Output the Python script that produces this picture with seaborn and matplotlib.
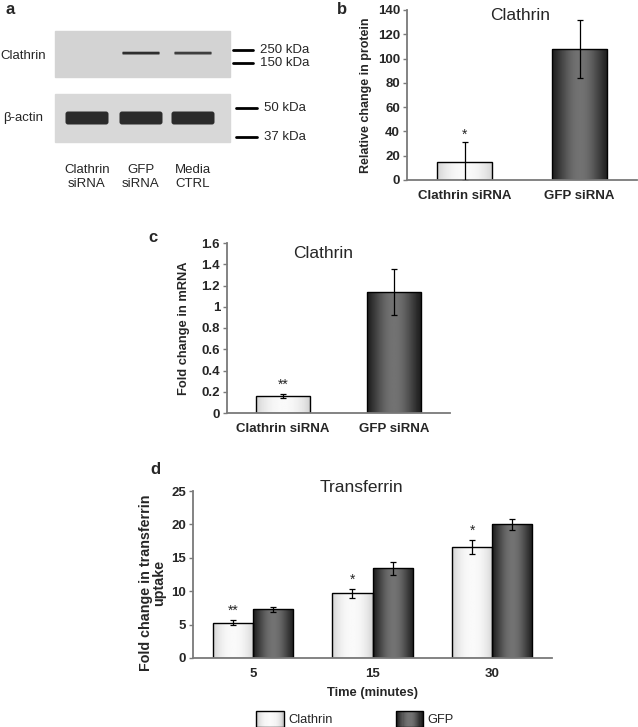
import matplotlib
matplotlib.use("Agg")
import matplotlib.pyplot as plt
import numpy as np
import pandas as pd
import seaborn as sns
from matplotlib.patches import FancyBboxPatch, Rectangle
from matplotlib.legend_handler import HandlerBase

# panel a (western blot)
lanes = ["Clathrin\nsiRNA", "GFP\nsiRNA", "Media\nCTRL"]
clathrin_band = [0.0, 1.0, 0.9]
actin_band = [1.0, 1.0, 1.0]
clathrin_markers = ["250 kDa", "150 kDa"]
actin_markers = ["50 kDa", "37 kDa"]

# panel b
b_groups = ["Clathrin siRNA", "GFP siRNA"]
b_values = [15, 108]
b_errors = [16, 24]
b_stars = ["*", ""]

# panel c
c_groups = ["Clathrin siRNA", "GFP siRNA"]
c_values = [0.16, 1.14]
c_errors = [0.02, 0.22]
c_stars = ["**", ""]

# panel d
d_times = ["5", "15", "30"]
d_clathrin = [5.3, 9.7, 16.6]
d_clathrin_err = [0.4, 0.7, 1.1]
d_gfp = [7.3, 13.4, 20.0]
d_gfp_err = [0.35, 0.9, 0.8]
d_stars = ["**", "*", "*"]

W, H = 638, 727
LIGHT = "#ececec"
DARK = "#404040"

sns.set_theme(style="white")
plt.rcParams["font.family"] = ["Liberation Sans", "DejaVu Sans"]

fig = plt.figure(figsize=(W / 100, H / 100), dpi=100)


def px_axes(x0, y0, x1, y1):
    return fig.add_axes([x0 / W, 1 - y1 / H, (x1 - x0) / W, (y1 - y0) / H])


def profile(light, n=64):
    t = np.linspace(0, 1, n)
    p = np.sin(np.pi * t)
    if light:
        return 0.80 + 0.18 * p ** 0.6
    return 0.12 + 0.33 * p ** 1.2


def shade(ax, bar, light):
    x, y, w, h = bar.get_x(), bar.get_y(), bar.get_width(), bar.get_height()
    img = profile(light)[None, :]
    im = ax.imshow(img, cmap="gray", vmin=0, vmax=1, aspect="auto",
                   extent=(x, x + w, y, y + h), zorder=bar.get_zorder(),
                   interpolation="bilinear")
    im.set_clip_path(bar)
    bar.set_facecolor("none")
    bar.set_edgecolor("black")
    bar.set_linewidth(1.0)
    bar.set_zorder(bar.get_zorder() + 0.5)


def style_axes(ax, ymax, step):
    ax.set_ylim(0, ymax)
    ax.set_yticks(np.arange(0, ymax + step / 2, step))
    sns.despine(ax=ax)
    for s in ("left", "bottom"):
        ax.spines[s].set_color("#7a7a7a")
        ax.spines[s].set_linewidth(1.3)
    ax.tick_params(axis="y", left=True, length=3, width=1, color="#7a7a7a",
                   pad=2, labelsize=9.5)
    ax.tick_params(axis="x", bottom=False, length=0, pad=7, labelsize=9.5)
    for lab in ax.get_xticklabels() + ax.get_yticklabels():
        lab.set_fontweight("bold")
    ax.set_xlabel("")
    ax.patch.set_alpha(0)


def fmt_tick(v, _):
    return f"{v:g}"


def simple_bars(ax, groups, values, errors, stars, ymax, step, ylabel,
                star_pad, ysize, ypad):
    df = pd.DataFrame({"group": groups, "value": values})
    sns.barplot(data=df, x="group", y="value", hue="group",
                palette=[LIGHT, DARK], width=0.48, legend=False, ax=ax)
    bars = list(ax.patches)
    for i, bar in enumerate(bars):
        cx = bar.get_x() + bar.get_width() / 2
        ax.errorbar(cx, values[i], yerr=errors[i], color="black", lw=0.9,
                    capsize=2.5, capthick=0.9, zorder=5)
        if stars[i]:
            ax.text(cx, values[i] + errors[i] + star_pad, stars[i], ha="center",
                    va="bottom", fontsize=10)
        shade(ax, bar, i == 0)
    ax.set_xlim(-0.5, 1.5)
    style_axes(ax, ymax, step)
    ax.yaxis.set_major_formatter(plt.FuncFormatter(fmt_tick))
    ax.set_ylabel(ylabel, fontsize=ysize, fontweight="bold", labelpad=ypad)


# ---- panel a ----
ax_a = px_axes(0, 0, 330, 200)
ax_a.set_xlim(0, 330)
ax_a.set_ylim(200, 0)
ax_a.axis("off")
ax_a.text(5, 10, "a", fontsize=12, fontweight="bold", ha="left", va="center")
ax_a.add_patch(Rectangle((55, 31), 175, 46, color="#d3d3d3"))
ax_a.add_patch(Rectangle((55, 94), 175, 48, color="#d8d8d8"))
lane_x = [87, 141, 193]
for cx, s in zip(lane_x, clathrin_band):
    if s > 0:
        ax_a.add_patch(FancyBboxPatch((cx - 18, 52.3), 36, 1.6,
                                      boxstyle="round,pad=0.6",
                                      color=(0.18, 0.18, 0.18, s), lw=0))
for cx, s in zip(lane_x, actin_band):
    ax_a.add_patch(FancyBboxPatch((cx - 19, 114), 38, 8,
                                  boxstyle="round,pad=2.5",
                                  color=(0.17, 0.17, 0.17, s), lw=0))
for cx, lab in zip(lane_x, lanes):
    ax_a.text(cx, 177, lab, ha="center", va="center", fontsize=9.5,
              linespacing=1.2)
ax_a.text(0, 56, "Clathrin", ha="left", va="center", fontsize=9.5)
ax_a.text(3, 118, "\u03b2-actin", ha="left", va="center", fontsize=9.5)
for yy, lab in zip([50, 63], clathrin_markers):
    ax_a.plot([233, 253], [yy, yy], color="black", lw=2)
    ax_a.text(260, yy, lab, ha="left", va="center", fontsize=9.5)
for yy, lab in zip([108, 137], actin_markers):
    ax_a.plot([236, 257], [yy, yy], color="black", lw=2)
    ax_a.text(264, yy, lab, ha="left", va="center", fontsize=9.5)

# ---- panel b ----
ax_b = px_axes(407, 10, 637, 180)
simple_bars(ax_b, b_groups, b_values, b_errors, b_stars, 140, 20,
            "Relative change in protein", 0.5, 9.0, 4)
ax_b.text(0.49, 0.97, "Clathrin", transform=ax_b.transAxes, ha="center",
          va="center", fontsize=12.5)
fig.text(337 / W, 1 - 9 / H, "b", fontsize=12, fontweight="bold",
         ha="left", va="center")

# ---- panel c ----
ax_c = px_axes(227, 243, 450, 413)
simple_bars(ax_c, c_groups, c_values, c_errors, c_stars, 1.6, 0.2,
            "Fold change in mRNA", 0.02, 9.3, 8)
ax_c.text(0.43, 0.94, "Clathrin", transform=ax_c.transAxes, ha="center",
          va="center", fontsize=12.5)
fig.text(148 / W, 1 - 238 / H, "c", fontsize=12, fontweight="bold",
         ha="left", va="center")

# ---- panel d ----
ax_d = px_axes(193, 491, 552, 658)
d_df = pd.DataFrame({
    "time": d_times * 2,
    "value": d_clathrin + d_gfp,
    "series": ["Clathrin"] * 3 + ["GFP"] * 3,
})
sns.barplot(data=d_df, x="time", y="value", hue="series",
            palette=[LIGHT, DARK], width=0.67, legend=False, ax=ax_d)
errs = d_clathrin_err + d_gfp_err
vals = d_clathrin + d_gfp
for i, bar in enumerate(list(ax_d.patches)):
    cx = bar.get_x() + bar.get_width() / 2
    ax_d.errorbar(cx, vals[i], yerr=errs[i], color="black", lw=0.9,
                  capsize=2.5, capthick=0.9, zorder=5)
    if i < 3 and d_stars[i]:
        ax_d.text(cx, vals[i] + errs[i] + 0.3, d_stars[i], ha="center",
                  va="bottom", fontsize=10)
    shade(ax_d, bar, i < 3)
ax_d.set_xlim(-0.5, 2.5)
style_axes(ax_d, 25, 5)
ax_d.set_ylabel("Fold change in transferrin\nuptake", fontsize=10.3,
                fontweight="bold", labelpad=3, linespacing=0.95)
ax_d.yaxis.set_label_coords(-0.075, 0.45)
ax_d.set_xlabel("Time (minutes)", fontsize=9.3, fontweight="bold", labelpad=5)
ax_d.text(0.47, 1.02, "Transferrin", transform=ax_d.transAxes, ha="center",
          va="center", fontsize=12.5)
fig.text(150 / W, 1 - 469 / H, "d", fontsize=12, fontweight="bold",
         ha="left", va="center")


class GradientHandler(HandlerBase):
    def __init__(self, light):
        super().__init__()
        self.light = light

    def create_artists(self, legend, orig_handle, xdescent, ydescent, width,
                       height, fontsize, trans):
        prof = profile(self.light, 24)
        n = len(prof)
        arts = []
        for k, v in enumerate(prof):
            arts.append(Rectangle((-xdescent + width * k / n, -ydescent),
                                  width / n + 0.3, height, color=str(v),
                                  lw=0, transform=trans))
        arts.append(Rectangle((-xdescent, -ydescent), width, height,
                              fill=False, ec="black", lw=1, transform=trans))
        return arts


h_light = Rectangle((0, 0), 1, 1)
h_dark = Rectangle((0, 0), 1, 1)
fig.legend([h_light, h_dark], ["Clathrin", "GFP"],
           handler_map={h_light: GradientHandler(True),
                        h_dark: GradientHandler(False)},
           loc="center", bbox_to_anchor=(355 / W, 1 - 719 / H), ncol=2,
           frameon=False, fontsize=9.3, handlelength=2.1, handleheight=1.6,
           columnspacing=4.9, handletextpad=0.35, borderpad=0)

fig.savefig("out.png", dpi=100)
